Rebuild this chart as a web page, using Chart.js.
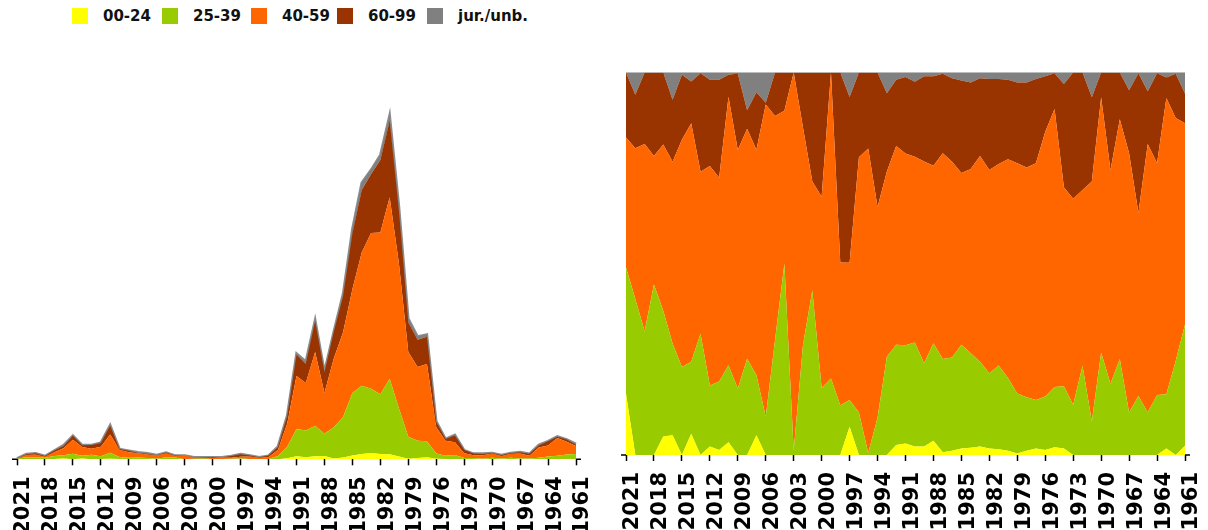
<!DOCTYPE html>
<html>
<head>
<meta charset="utf-8">
<script src="https://cdn.jsdelivr.net/npm/chart.js@4.4.0/dist/chart.umd.min.js"></script>
<style>
  body { margin: 0; width: 1208px; height: 530px; overflow: hidden; position: relative; background: #fff;
         font-family: "DejaVu Sans", Verdana, sans-serif; }
  canvas { position: absolute; top: 0; }
  #left { left: 0; }
  #right { left: 600px; }
  .lg { position: absolute; top: 8px; height: 16px; line-height: 16px; font-weight: bold; font-size: 15px; color: #111; white-space: nowrap; }
  .lg span { position: absolute; left: 0; top: 0; width: 16px; height: 16px; }
  .lg b { position: absolute; top: 0; }
</style>
</head>
<body>
<div id="legend"></div>
<canvas id="left" width="600" height="530"></canvas>
<canvas id="right" width="608" height="530"></canvas>
<script>
const years = ['2021','2020','2019','2018','2017','2016','2015','2014','2013','2012',
  '2011','2010','2009','2008','2007','2006','2005','2004','2003','2002',
  '2001','2000','1999','1998','1997','1996','1995','1994','1993','1992',
  '1991','1990','1989','1988','1987','1986','1985','1984','1983','1982',
  '1981','1980','1979','1978','1977','1976','1975','1974','1973','1972',
  '1971','1970','1969','1968','1967','1966','1965','1964','1963','1962','1961'];

const groups = ['00-24', '25-39', '40-59', '60-99', 'jur./unb.'];
const colors = ['#ffff00', '#99cc00', '#ff6600', '#993300', '#808080'];

const age00_24 = [16,0,0,0,42,74,0,79,0,37, 45,34,0,0,31,0,0,0,0,0,
  0,0,0,0,39,0,0,0,0,114, 318,216,308,326,90,183,393,526,638,519,
  518,278,56,135,213,49,41,42,0,0, 0,0,0,0,0,0,0,0,39,0, 37];
const age25_39 = [33,216,194,147,286,343,545,270,453,267, 614,208,151,176,94,43,202,185,4,58,
  86,35,40,43,37,41,1,36,326,1153, 2724,2666,3052,2244,3123,4050,6260,6842,6438,6009,
  7556,4807,2214,1722,1588,532,324,399,121,133, 50,166,80,158,81,85,162,286,327,492, 491];
const age40_59 = [34,209,294,111,378,679,1408,891,606,959, 1828,723,543,421,353,350,392,148,366,114,
  57,100,160,123,190,247,160,204,615,2288, 5311,4763,7378,4083,6886,8499,10372,13351,15602,16196,
  18182,14472,8488,7392,7738,2630,1490,1274,496,262, 357,414,240,395,494,263,1016,1103,1780,1270, 815];
const age60_99 = [17,74,112,72,164,232,403,156,368,376, 878,59,174,34,90,2,76,37,0,29,
  57,65,0,164,229,82,40,130,260,761, 2120,1921,3122,2059,2662,3619,5590,6260,5887,7259,
  7659,5262,2975,2731,2750,551,191,662,304,175, 125,40,110,77,120,201,200,428,124,232, 121];
const jurUnb = [0,31,0,0,0,102,14,34,3,32, 65,6,2,69,31,34,0,0,0,0,
  0,0,0,0,34,0,0,0,69,84, 127,235,140,88,38,249,485,720,435,519,
  587,481,367,320,213,38,4,74,0,0, 37,0,0,0,34,1,71,4,30,6, 85];

const series = [age00_24, age25_39, age40_59, age60_99, jurUnb];
const totals = years.map((y, i) => series.reduce((s, a) => s + a[i], 0));
const shares = series.map(a => a.map((v, i) => totals[i] ? v / totals[i] * 100 : 0));

// legend
const legendX = [72, 162, 251, 337, 427];
const legend = document.getElementById('legend');
groups.forEach((g, k) => {
  const d = document.createElement('div');
  d.className = 'lg';
  d.style.left = legendX[k] + 'px';
  d.innerHTML = '<span style="background:' + colors[k] + '"></span><b style="left:31px">' + g + '</b>';
  legend.appendChild(d);
});

// short stubs at both ends of the baseline
const stubs = {
  id: 'stubs',
  afterDraw(chart) {
    const a = chart.chartArea, c = chart.ctx;
    c.save();
    c.strokeStyle = '#000';
    c.lineWidth = 1.5;
    c.beginPath();
    c.moveTo(a.left - 5, a.bottom); c.lineTo(a.left, a.bottom);
    c.moveTo(a.right, a.bottom); c.lineTo(a.right + 5, a.bottom);
    c.stroke();
    c.restore();
  }
};

function makeChart(id, data, yMax, top, bottom, padL, padR) {
  return new Chart(document.getElementById(id), {
    type: 'line',
    data: {
      labels: years,
      datasets: data.map((d, k) => ({
        label: groups[k],
        data: d,
        backgroundColor: colors[k],
        borderColor: k === 4 ? 'rgba(128,128,128,0.9)' : colors[k],
        borderWidth: k === 4 ? 2.5 : 0,
        fill: k === 0 ? 'origin' : '-1',
        pointRadius: 0,
        tension: 0
      }))
    },
    options: {
      responsive: false,
      animation: false,
      devicePixelRatio: 1,
      layout: { padding: { top: top, left: padL, right: padR, bottom: 0 } },
      plugins: { legend: { display: false }, tooltip: { enabled: false } },
      scales: {
        x: {
          border: { display: false },
          grid: {
            drawOnChartArea: false,
            tickLength: 6,
            tickWidth: 1.5,
            tickColor: ctx => ctx.index % 3 === 0 ? '#000' : 'rgba(0,0,0,0)'
          },
          ticks: {
            autoSkip: false,
            maxRotation: 90,
            minRotation: 90,
            padding: 11,
            labelOffset: 7,
            color: '#000',
            font: { family: '"DejaVu Sans", Verdana, sans-serif', size: 21, weight: 'bold' },
            callback: function (v, i) { return i % 3 === 0 ? this.getLabelForValue(v) : ''; }
          },
          afterFit: s => {
            s.height = 530 - bottom;
            s.paddingLeft = 0;
            s.paddingRight = 0;
          }
        },
        y: {
          display: false,
          stacked: true,
          min: 0,
          max: yMax
        }
      }
    },
    plugins: [stubs]
  });
}

makeChart('left', series, 40000, 60, 459.3, 17, 24);
makeChart('right', shares, 100, 72.5, 455, 26, 23);
</script>
</body>
</html>
